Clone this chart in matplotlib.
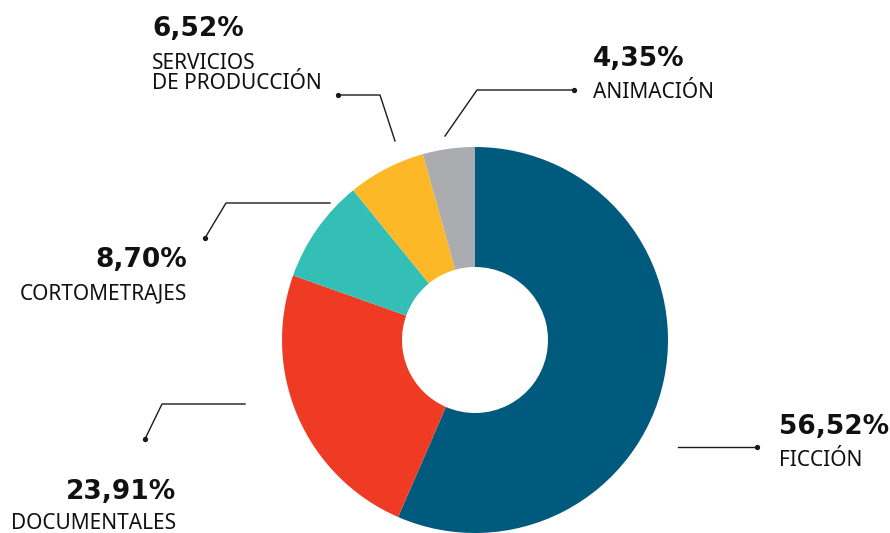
import matplotlib.pyplot as plt
from matplotlib.lines import Line2D

categories = ["FICCIÓN", "DOCUMENTALES", "CORTOMETRAJES", "SERVICIOS\nDE PRODUCCIÓN", "ANIMACIÓN"]
shares = [56.52, 23.91, 8.70, 6.52, 4.35]
pct_labels = ["56,52%", "23,91%", "8,70%", "6,52%", "4,35%"]
colors = ["#005a7e", "#ef3a24", "#33bfb6", "#fdb827", "#abacb0"]

W, H = 890, 533
fig = plt.figure(figsize=(W / 100, H / 100), dpi=100)

# donut: centre (475, 340) px, radius 193 px
cx, cy, r = 475, 340, 193
ax = fig.add_axes([(cx - r) / W, (H - cy - r) / H, 2 * r / W, 2 * r / H])
ax.pie(shares, colors=colors, startangle=90, counterclock=False,
       wedgeprops=dict(width=1 - 73 / 193, linewidth=0))
ax.set_xlim(-1, 1)
ax.set_ylim(-1, 1)
ax.axis("off")


def px(x, y):
    return x / W, 1 - y / H


# leader lines in pixel coords, dot on the first point
leaders = [
    [(757, 447), (678, 447)],
    [(145, 439), (162, 404), (245, 404)],
    [(205, 238), (226, 203), (330, 203)],
    [(338, 95), (380, 95), (395, 141)],
    [(574, 90), (477, 90), (445, 136)],
]
for pts in leaders:
    xs = [px(*p)[0] for p in pts]
    ys = [px(*p)[1] for p in pts]
    fig.add_artist(Line2D(xs, ys, color="#1a1a1a", lw=1.0, transform=fig.transFigure))
    fig.add_artist(Line2D([xs[0]], [ys[0]], marker="o", ms=2.8, color="#1a1a1a",
                          transform=fig.transFigure))

# text placement: (x, pct baseline, label baseline, ha)
text_pos = [
    (779, 434, 466, "left"),
    (176, 499, 529, "right"),
    (187, 267, 299, "right"),
    (152, 36, 89, "left"),
    (593, 66, 98, "left"),
]
for (x, yp, yl, ha), pct, lab in zip(text_pos, pct_labels, categories):
    fig.text(*px(x, yp), pct, ha=ha, va="baseline", fontsize=19,
             fontweight="bold", family="DejaVu Sans", color="#111111")
    fig.text(*px(x, yl), lab, ha=ha, va="baseline", fontsize=15,
             family="Noto Sans", color="#111111", linespacing=0.92)

plt.savefig("out.png", dpi=100)
